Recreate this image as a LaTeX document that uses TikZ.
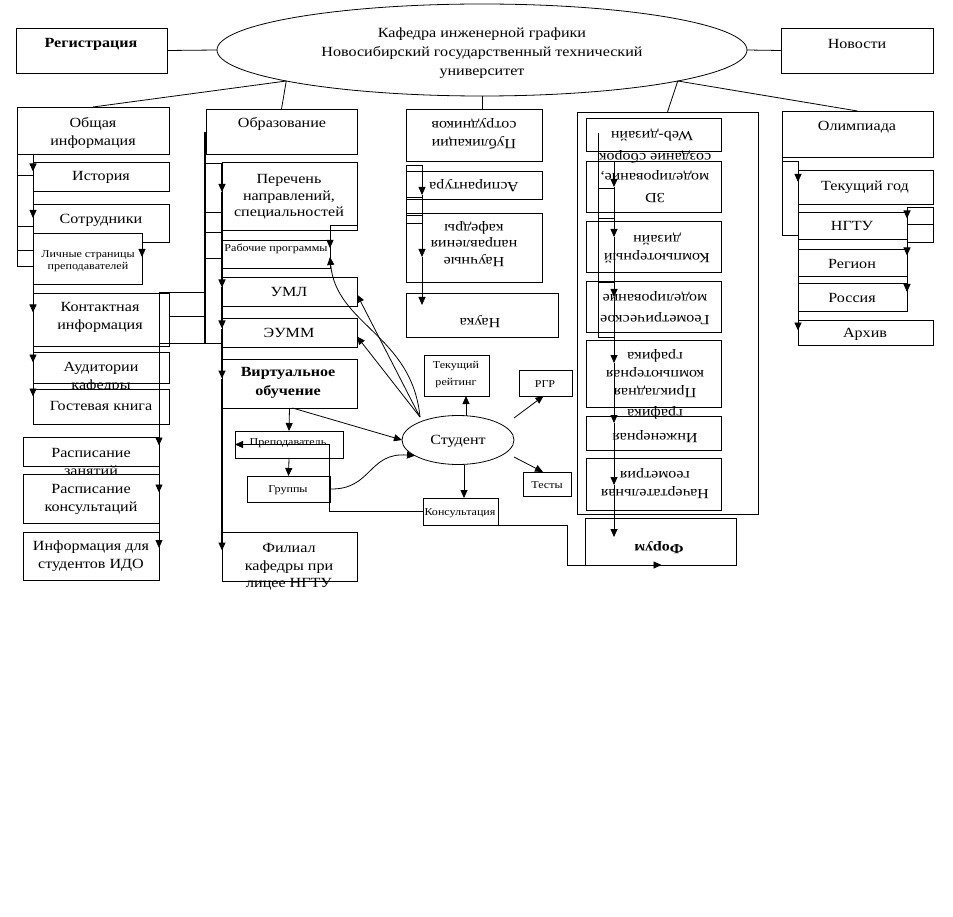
\documentclass[tikz,border=0pt]{standalone}
\usepackage{fontspec}
\setmainfont{Liberation Serif}[FakeStretch=1.15]
\usetikzlibrary{shapes.geometric,arrows.meta}
\newcommand{\bx}[5]{\node[box, minimum width={(#4)-(#2)}, minimum height={(#5)-(#3)}] (#1) at ({((#2)+(#4))/2},{((#3)+(#5))/2}) {};}
\begin{document}
\begin{tikzpicture}[x=1pt,y=-1pt,
  box/.style={draw, fill=white, line width=0.8pt, inner sep=0pt, outer sep=0pt},
  txt/.style={inner sep=0pt, align=center, font=\fontsize{14}{18}\selectfont},
  stxt/.style={inner sep=0pt, align=center, font=\fontsize{10.5}{12.5}\selectfont},
  btxt/.style={inner sep=0pt, align=center, font=\fontsize{14}{19}\selectfont\bfseries},
  ln/.style={line width=0.8pt},
  arr/.style={line width=0.8pt, -{Triangle[width=7pt,length=8pt]}},
  oval/.style={draw, ellipse, fill=white, line width=0.8pt, inner sep=0pt, outer sep=0pt}]
\fill[white] (0,0) rectangle (953,917);
\useasboundingbox (0,0) rectangle (953,917);

% ---------- top ----------
\bx{reg}{16}{28}{167}{73}
\node[btxt] (treg) at (91,44) {Регистрация};
\bx{news}{781}{28}{933}{73}
\node[txt] (tnews) at (857,44) {Новости};
\node[oval, minimum width=530pt, minimum height=92pt] (kaf) at (482,50) {};
\node[txt, font=\fontsize{14}{19}\selectfont] (tkaf) at (482,53) {Кафедра инженерной графики\\Новосибирский государственный технический\\университет};

% ---------- left column ----------
\bx{obsh}{17}{107}{169}{154}
\node[txt] (tobsh) at (93,133) {Общая\\информация};
\bx{hist}{33}{162}{169}{191}
\node[txt] (thist) at (101,177) {История};
\bx{sotr}{33}{204}{169}{242}
\node[txt] (tsotr) at (101,220) {Сотрудники};
\bx{lich}{33}{233}{142}{284}
\node[stxt] (tlich) at (88,261) {Личные страницы\\преподавателей};
\bx{kont}{33}{293}{169}{346}
\node[txt] (tkont) at (100,317) {Контактная\\информация};
\bx{aud}{33}{352}{169}{383}
\node[txt] (taud) at (101,377) {Аудитории\\кафедры};
\bx{gost}{33}{389}{169}{424}
\node[txt] (tgost) at (101,406) {Гостевая книга};
\bx{rasz}{23}{437}{159}{466}
\node[txt] (trasz) at (91,462) {Расписание\\занятий};
\bx{rask}{23}{474}{159}{523}
\node[txt] (trask) at (91,499) {Расписание\\консультаций};
\bx{ido}{23}{532}{159}{580}
\node[txt] (tido) at (91,556) {Информация для\\студентов ИДО};

% ---------- education column ----------
\bx{obr}{206}{109}{357}{154}
\node[txt] (tobr) at (282,124) {Образование};
\bx{per}{222}{162}{357}{230}
\node[txt, font=\fontsize{14}{16.5}\selectfont] (tper) at (289,197) {Перечень\\направлений,\\специальностей};
\bx{rab}{222}{240}{330}{268}
\node[stxt] (trab) at (276,249) {Рабочие программы};
\bx{uml}{222}{277}{357}{306}
\node[txt] (tuml) at (289,292) {УМЛ};
\bx{eumm}{222}{318}{357}{347}
\node[txt] (teumm) at (289,333) {ЭУММ};
\bx{virt}{222}{359}{357}{408}
\node[btxt] (tvirt) at (288,383) {Виртуальное\\обучение};
\bx{prep}{235}{431}{343}{458}
\node[stxt] (tprep) at (288,443) {Преподаватель};
\bx{grup}{247}{476}{330}{502}
\node[stxt] (tgrup) at (288,490) {Группы};
\bx{fil}{222}{532}{357}{581}
\node[txt, font=\fontsize{14}{17.5}\selectfont] (tfil) at (289,567) {Филиал\\кафедры при\\лицее НГТУ};

% ---------- student ----------
\node[oval, minimum width=112pt, minimum height=49pt] (stud) at (458,440) {};
\node[txt] (tstud) at (458,441) {Студент};
\bx{rate}{424}{355}{489}{396}
\node[stxt, font=\fontsize{10.5}{17}\selectfont] (trate) at (456,375) {Текущий\\рейтинг};
\bx{rgr}{519}{370}{572}{396}
\node[stxt] (trgr) at (545,384) {РГР};
\bx{test}{523}{472}{571}{496}
\node[stxt] (ttest) at (547,485) {Тесты};
\bx{kons}{423}{498}{498}{525}
\node[stxt] (tkons) at (460,513) {Консультация};

% ---------- middle column (rotated) ----------
\bx{pub}{406}{109}{542}{161}
\node[txt, rotate=180] (tpub) at (474,134) {Публикации\\сотрудников};
\bx{asp}{406}{171}{542}{199}
\node[txt, rotate=180] (tasp) at (474,186) {Аспирантура};
\bx{nauchn}{406}{213}{542}{282}
\node[txt, rotate=180, font=\fontsize{14}{16.5}\selectfont] (tnauchn) at (474,244) {Научные\\направления\\кафедры};
\bx{nauka}{406}{293}{558}{337}
\node[txt, rotate=180] (tnauka) at (480,322) {Наука};

% ---------- frame ----------
\bx{frame}{577}{112}{758}{514}
\bx{web}{586}{118}{721}{151}
\node[txt, rotate=180] (tweb) at (652,135) {Web-дизайн};
\bx{d3}{586}{161}{721}{212}
\node[txt, rotate=180, font=\fontsize{14}{20}\selectfont] (td3) at (655,177) {3D\\моделирование,\\создание сборок};
\bx{comp}{586}{221}{721}{272}
\node[txt, rotate=180] (tcomp) at (657,248) {Компьютерный\\дизайн};
\bx{geom}{586}{281}{721}{332}
\node[txt, rotate=180, font=\fontsize{14}{21}\selectfont] (tgeom) at (655,308) {Геометрическое\\моделирование};
\bx{prikl}{586}{340}{721}{407}
\node[txt, rotate=180] (tprikl) at (655,374) {Прикладная\\компьютерная\\графика};
\bx{inzh}{586}{416}{721}{450}
\node[txt, rotate=180, font=\fontsize{14}{24}\selectfont] (tinzh) at (655,425) {Инженерная\\графика};
\bx{nach}{586}{458}{721}{510}
\node[txt, rotate=180] (tnach) at (655,484) {Начертательная\\геометрия};
\bx{forum}{585}{518}{736}{565}
\node[btxt, rotate=180] (tforum) at (659,548) {Форум};

% ---------- right column ----------
\bx{olimp}{782}{111}{933}{157}
\node[txt] (tolimp) at (857,127) {Олимпиада};
\bx{tekg}{798}{170}{933}{204}
\node[txt] (ttekg) at (865,187) {Текущий год};
\bx{nsq}{907}{207}{933}{242}
\bx{ngtu}{798}{212}{907}{239}
\node[txt] (tngtu) at (852,226) {НГТУ};
\bx{reg2}{798}{249}{907}{276}
\node[txt] (treg2) at (852,264) {Регион};
\bx{ros}{798}{283}{907}{311}
\node[txt] (tros) at (852,298) {Россия};
\bx{arch}{798}{320}{933}{345}
\node[txt] (tarch) at (865,334) {Архив};

% ---------- connectors: top ----------
\draw[ln] (reg.east) -- (kaf.west);
\draw[ln] (kaf.east) -- (news.west);
\draw[ln] (kaf.189) -- (obsh.north);
\draw[ln] (kaf.189) -- (obr.north);
\draw[ln] (kaf.south) -- (kaf.south |- pub.north);
\draw[ln] (kaf.351) -- (frame.north);
\draw[ln] (kaf.351) -- (olimp.north);

% ---------- connectors: left column ----------
\draw[ln] (obsh.south west) -- (17,266) -- (33,266);
\foreach \yy in {175,226,250} \draw[ln] (17,\yy) -- (33,\yy);
\draw[arr] (33,154) -- ([yshift=5pt]hist.west);
\draw[arr] ([yshift=5pt]hist.west) -- ([yshift=5pt]sotr.west);
\draw[arr] ([yshift=5pt]sotr.west) -- ([yshift=7pt]kont.west);
\draw[arr] ([yshift=7pt]kont.west) -- ([yshift=5pt]aud.west);
\draw[arr] ([yshift=5pt]aud.west) -- ([yshift=10pt]gost.west);
\draw[arr] (lich.north east) -- ++(0,24);
\draw[ln] (159,292) -- (205,292);
\draw[ln] (169,316) -- (205,316);
\draw[ln] (159,343) -- (222,343);
\draw[arr] (159,292) -- ([yshift=6pt]rasz.east);
\draw[arr] ([yshift=6pt]rasz.east) -- ([yshift=6pt]rask.east);
\draw[arr] ([yshift=6pt]rask.east) -- ([yshift=8pt]ido.east);

% ---------- connectors: education ----------
\draw[line width=1.2pt] (205,132) -- (205,343);
\foreach \yy in {163,212,232,258} \draw[ln] (205,\yy) -- (222,\yy);
\draw[arr, line width=1.2pt] (222,163) -- ([yshift=4pt]per.west);
\draw[arr, line width=1.2pt] ([yshift=4pt]per.west) -- ([yshift=4pt]uml.west);
\draw[arr, line width=1.2pt] ([yshift=4pt]uml.west) -- ([yshift=4pt]eumm.west);
\draw[arr, line width=1.2pt] ([yshift=4pt]eumm.west) -- ([yshift=5pt]virt.west);
\draw[arr, line width=1.2pt] ([yshift=5pt]virt.west) -- ([yshift=6pt]fil.west);
\draw[arr] ([yshift=5pt]per.south east) -| ([yshift=6pt]rab.east);

% ---------- connectors: student ----------
\draw[arr] (virt.south) -- (prep.north);
\draw[arr] ([xshift=3pt]virt.south) -- (stud.west);
\draw[arr] (prep.south) -- (grup.north);
\draw[arr] (grup.east) .. controls (372,490) and (368,452) .. (stud.200);
\draw[arr] (kons.west) -| ([xshift=-14pt]prep.east) -- (prep.west);
\draw[arr] ([xshift=8pt]stud.north) -- ([xshift=8pt]stud.north |- rate.south);
\draw[arr] ([yshift=22pt]stud.east) -- ([xshift=-2pt]rgr.south);
\draw[arr] ([yshift=-17pt]stud.east) -- ([xshift=-4pt]test.north);
\draw[arr] ([xshift=6pt]stud.south) -- ([xshift=6pt]stud.south |- kons.north);
\coordinate (sTL) at (420,417);
\draw[arr] (sTL) -- ([yshift=-3pt]uml.east);
\draw[arr] (sTL) -- ([yshift=-4pt]eumm.east);
\draw[arr] (sTL) .. controls (412,335) and (336,325) .. ([yshift=-3pt]rab.east);
\draw[arr] (kons.south east) -- ++(69,0) |- ([xshift=1pt]forum.south);

% ---------- connectors: middle column ----------
\draw[ln] (406,165) -- (406,223);
\foreach \yy in {165,197,215,223} \draw[ln] (406,\yy) -- (422,\yy);
\draw[arr] (422,165) -- (422,195);
\draw[arr] (422,195) -- (422,257);
\draw[arr] (422,257) -- (422,305);

% ---------- connectors: frame ----------
\draw[ln] (598,133) -- (598,337);
\foreach \yy in {161,188,218,282,337} \draw[ln] (598,\yy) -- (614,\yy);
\foreach \a/\b in {161/187,187/237,237/297,297/363,363/423,423/485,485/537} \draw[arr] (614,\a) -- (614,\b);

% ---------- connectors: right column ----------
\draw[ln] (olimp.south west) -- (782,235) -- (798,235);
\draw[ln] (782,161) -- (798,161);
\draw[arr] (798,161) -- ([yshift=5pt]tekg.west);
\draw[arr] ([yshift=5pt]tekg.west) -- ([yshift=2pt]arch.west);
\draw[ln] (nsq.west) -- (nsq.east);
\draw[arr] (907,207) -- ([yshift=7pt]ngtu.east);
\draw[arr] ([yshift=7pt]ngtu.east) -- ([yshift=7pt]reg2.east);
\draw[arr] ([yshift=7pt]reg2.east) -- ([yshift=5pt]ros.east);
\draw[ln] ([yshift=5pt]ros.east) -- (ros.south east);
\end{tikzpicture}
\end{document}
